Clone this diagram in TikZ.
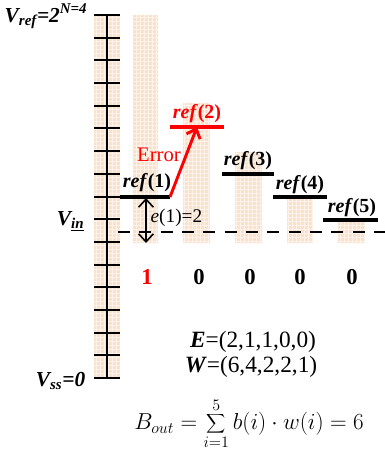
\documentclass[tikz,border=0pt]{standalone}
\usepackage{fontspec}
\setmainfont{Liberation Serif}
\usetikzlibrary{arrows.meta,patterns}
\definecolor{peach}{RGB}{251,224,202}

\begin{document}
\begin{tikzpicture}[x=0.75pt,y=-0.75pt,
  col/.style={fill=peach,postaction={pattern=grid,pattern color=peach!40!white}},
  lvl/.style={line width=3pt},
  reflbl/.style={font=\fontsize{15}{17}\selectfont\bfseries},
  vlbl/.style={anchor=base east,font=\fontsize{16}{18}\selectfont\bfseries\itshape},
  bit/.style={font=\fontsize{17}{19}\selectfont\bfseries},
  >={Straight Barb[length=6pt,width=11pt]}]
  \useasboundingbox (0,0) rectangle (385,457);
  % hatched columns
  \fill[col] (94,15) rectangle (120,378);
  \fill[col] (133,15) rectangle (158,243);
  \fill[col] (183,103) rectangle (210,243);
  \fill[col] (235,152) rectangle (262,243);
  \fill[col] (287,197) rectangle (313,243);
  \fill[col] (338,220) rectangle (365,243);
  % ruler
  \draw[line width=1.5pt] (107,15) -- (107,378);
  \foreach \k in {0,...,16}
    \draw[line width=1.5pt] (94,{15+22.69*\k}) -- (120,{15+22.69*\k});
  % voltage labels
  \node[vlbl] (vref) at (92,22) {V\textsubscript{ref}=2\textsuperscript{N=4}};
  \node[vlbl] (vin) at (89,225) {V\textsubscript{\underline{in}}};
  \node[vlbl] (vss) at (90,386) {V\textsubscript{ss}=0};
  % input level
  \coordinate (dl) at (118,232);
  \coordinate (dr) at (385,232);
  \draw[line width=1.5pt,dash pattern=on 9pt off 7pt] (dl) -- (dr);
  % reference levels
  \coordinate (r1a) at (120,197); \coordinate (r1b) at (170,197);
  \coordinate (r2a) at (170,127); \coordinate (r2b) at (224,127);
  \coordinate (r2m) at (197,127);
  \coordinate (r3a) at (222,174); \coordinate (r3b) at (274,174);
  \coordinate (r4a) at (273,197); \coordinate (r4b) at (327,197);
  \coordinate (r5a) at (323,220); \coordinate (r5b) at (378,220);
  \draw[lvl] (r1a) -- (r1b);
  \draw[lvl,red] (r2a) -- (r2b);
  \draw[lvl] (r3a) -- (r3b);
  \draw[lvl] (r4a) -- (r4b);
  \draw[lvl] (r5a) -- (r5b);
  \node[reflbl] (l1) at (147,183) {\textit{ref}(1)};
  \node[reflbl,red] (l2) at (197,114) {\textit{ref}(2)};
  \node[reflbl] (l3) at (248,161) {\textit{ref}(3)};
  \node[reflbl] (l4) at (300,185) {\textit{ref}(4)};
  \node[reflbl] (l5) at (352,208) {\textit{ref}(5)};
  % error step
  \draw[->,red,line width=2.2pt] (r1b) -- (r2m);
  \node[red,font=\fontsize{15.5}{17}\selectfont] (err) at (159,155) {Error};
  \coordinate (e1t) at (146,198);
  \coordinate (e1b) at (146,243);
  \draw[<->,line width=1.2pt] (e1t) -- (e1b);
  \node[anchor=west,font=\fontsize{14.5}{16}\selectfont,inner sep=1pt] (e1) at (149,218) {\textit{e}(1)=2};
  % output bits
  \foreach \x/\b/\c in {147/1/red,199/0/black,250/0/black,300/0/black,352/0/black}
    \node[bit,text=\c] (b\x) at (\x,277) {\b};
  % vectors and sum
  \node[font=\fontsize{17.5}{19}\selectfont,inner sep=1pt] (evec) at (253,342) {\textbf{\textit{E}}=(2,1,1,0,0)};
  \node[font=\fontsize{17.5}{19}\selectfont,inner sep=1pt] (wvec) at (251,367) {\textbf{\textit{W}}=(6,4,2,2,1)};
  \node[font=\fontsize{17}{19}\selectfont,inner sep=0pt] (bout) at (249,424)
    {$\displaystyle B_{out}=\sum_{i=1}^{5} b(i)\cdot w(i)=6$};
\end{tikzpicture}
\end{document}
